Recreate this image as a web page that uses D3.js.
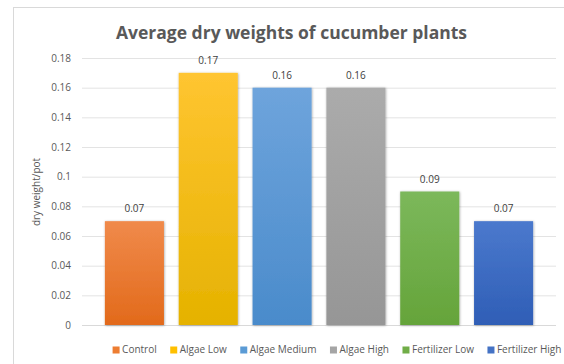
<!DOCTYPE html>
<html><head><meta charset="utf-8">
<script src="https://cdn.jsdelivr.net/npm/d3@7"></script>
<style>body{margin:0;background:#fff}svg{display:block}</style>
</head><body>
<script>
const categories = ["Control","Algae Low","Algae Medium","Algae High","Fertilizer Low","Fertilizer High"];
const values = [0.07,0.17,0.16,0.16,0.09,0.07];
const valueLabels = ["0.07","0.17","0.16","0.16","0.09","0.07"];
const yTicks = [0,0.02,0.04,0.06,0.08,0.1,0.12,0.14,0.16,0.18];
const yTickLabels = ["0","0.02","0.04","0.06","0.08","0.1","0.12","0.14","0.16","0.18"];
const colorsTop = ["#f08a4b","#ffc531","#6ea4dc","#ababab","#7cb85b","#4b79cd"];
const colorsBottom = ["#e26a1b","#e5b200","#4a8bcb","#969696","#65a43a","#2f5eb6"];
const legendColors = ["#ed7d31","#ffc000","#5b9bd5","#a5a5a5","#70ad47","#4472c4"];
const title = "Average dry weights of cucumber plants";
const yTitle = "dry weight/pot";

const W=564,H=364;
const svg=d3.select("body").append("svg").attr("width",W).attr("height",H);
const defs=svg.append("defs");
categories.forEach((c,i)=>{
  const g=defs.append("linearGradient").attr("id","g"+i).attr("x1",0).attr("y1",0).attr("x2",0).attr("y2",1);
  g.append("stop").attr("offset","0%").attr("stop-color",colorsTop[i]);
  g.append("stop").attr("offset","100%").attr("stop-color",colorsBottom[i]);
});
const f=defs.append("filter").attr("id","sh").attr("x","-20%").attr("y","-20%").attr("width","140%").attr("height","140%");
f.append("feDropShadow").attr("dx",0.5).attr("dy",0.5).attr("stdDeviation",1.2).attr("flood-color","#000").attr("flood-opacity",0.35);

// chart border
svg.append("rect").attr("x",13.5).attr("y",7.5).attr("width",600).attr("height",400)
  .attr("fill","#fff").attr("stroke","#d9d9d9");

const y=d3.scaleLinear().domain([0,0.18]).range([325,58]);
const x=d3.scaleBand().domain(categories).range([97.5,540.5]).paddingInner(0.2).paddingOuter(0.1);
const gridL=82, gridR=556;

// gridlines
const grid=svg.append("g").attr("transform",`translate(${gridL},0)`)
  .call(d3.axisLeft(y).tickValues(yTicks).tickSize(-(gridR-gridL)).tickFormat((d,i)=>yTickLabels[i]).tickPadding(11));
grid.select(".domain").remove();
grid.selectAll(".tick line").attr("stroke",d=>d===0?"#d9d9d9":"#e3e3e3").attr("stroke-width",1);
grid.selectAll(".tick text").attr("fill","#595959").attr("font-family","Open Sans, sans-serif").attr("font-size",10);

// bars
svg.append("g").selectAll("rect").data(values).join("rect")
  .attr("x",(d,i)=>x(categories[i])).attr("width",x.bandwidth())
  .attr("y",d=>y(d)).attr("height",d=>y(0)-y(d))
  .attr("fill",(d,i)=>`url(#g${i})`).attr("filter","url(#sh)");

// value labels
svg.append("g").selectAll("text").data(values).join("text")
  .attr("x",(d,i)=>x(categories[i])+x.bandwidth()/2).attr("y",d=>y(d)-9)
  .attr("text-anchor","middle").attr("fill","#404040")
  .attr("font-family","Open Sans, sans-serif").attr("font-size",10)
  .text((d,i)=>valueLabels[i]);

// title
svg.append("text").attr("x",291.5).attr("y",39).attr("text-anchor","middle")
  .attr("fill","#595959").attr("font-family","Open Sans, sans-serif").attr("font-weight","bold")
  .attr("font-size",17.5).text(title);

// y title
svg.append("text").attr("transform","translate(40,192) rotate(-90)").attr("text-anchor","middle")
  .attr("fill","#595959").attr("font-family","Open Sans, sans-serif").attr("font-size",10).text(yTitle);

// legend
const lg=svg.append("g");
const items=lg.selectAll("g").data(categories).join("g");
items.append("rect").attr("width",7).attr("height",7).attr("y",-6.5).attr("fill",(d,i)=>legendColors[i]);
items.append("text").attr("x",9.5).attr("y",0).attr("fill","#595959")
  .attr("font-family","Open Sans, sans-serif").attr("font-size",10).text(d=>d);
const gap=13.5;
let cx=0; const pos=[];
items.each(function(d,i){const w=9.5+d3.select(this).select("text").node().getComputedTextLength();pos.push(cx);cx+=w+gap;});
const total=cx-gap;
const start=337-total/2;
items.attr("transform",(d,i)=>`translate(${start+pos[i]},353)`);
</script>
</body></html>
